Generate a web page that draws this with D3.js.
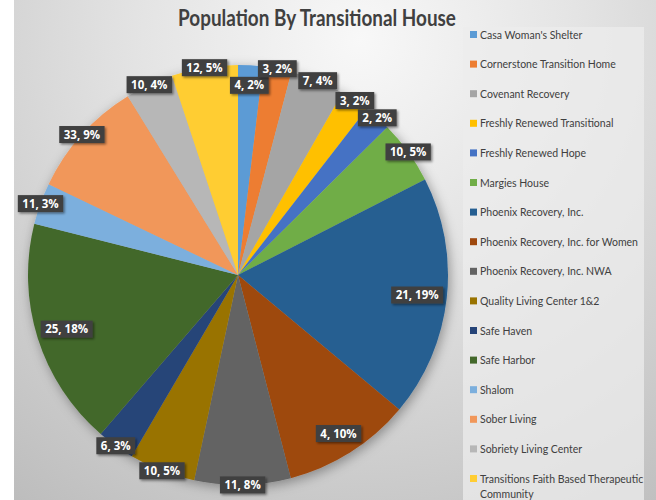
<!DOCTYPE html>
<html><head><meta charset="utf-8">
<script src="https://cdn.jsdelivr.net/npm/d3@7"></script>
<style>
html,body{margin:0;padding:0;background:#fff;}
svg{display:block;}
</style></head>
<body>
<svg id="chart" width="656" height="500"></svg>
<script>
const categories = ["Casa Woman's Shelter","Cornerstone Transition Home","Covenant Recovery","Freshly Renewed Transitional","Freshly Renewed Hope","Margies House","Phoenix Recovery, Inc.","Phoenix Recovery, Inc. for Women","Phoenix Recovery, Inc. NWA","Quality Living Center 1&2","Safe Haven","Safe Harbor","Shalom","Sober Living","Sobriety Living Center","Transitions Faith Based Therapeutic Community"];
const counts = [4,3,7,3,2,10,21,4,11,10,6,25,11,33,10,12];
const percentLabels = [2,2,4,2,2,5,19,10,8,5,3,18,3,9,4,5];
const shares = [1.9,2.2,4.2,2.2,2.1,4.9,18.6,9.9,7.4,5.1,2.9,17.6,3.2,9.1,3.7,5.1];
const colors = ["#5B9BD5","#ED7D31","#A5A5A5","#FFC000","#4472C4","#70AD47","#255E91","#9E480E","#636363","#997300","#264478","#43682B","#7CAFDD","#F1975A","#B7B7B7","#FFCD33"];
const title = "Population By Transitional House";

const svg = d3.select("#chart");
const W = 656, H = 500;
const defs = svg.append("defs");
const rg = defs.append("radialGradient").attr("id","bg").attr("gradientUnits","userSpaceOnUse")
  .attr("cx",360).attr("cy",40).attr("r",620);
rg.append("stop").attr("offset",0).attr("stop-color","#f8f8f8");
rg.append("stop").attr("offset",0.35).attr("stop-color","#e4e4e4");
rg.append("stop").attr("offset",1).attr("stop-color","#b8b8b8");
const sh = defs.append("filter").attr("id","pieShadow").attr("x","-20%").attr("y","-20%").attr("width","140%").attr("height","140%");
sh.append("feDropShadow").attr("dx",2).attr("dy",3).attr("stdDeviation",6).attr("flood-color","#000").attr("flood-opacity",0.35);
const lsh = defs.append("filter").attr("id","lblShadow").attr("x","-20%").attr("y","-30%").attr("width","150%").attr("height","170%");
lsh.append("feDropShadow").attr("dx",1.5).attr("dy",1.5).attr("stdDeviation",1.2).attr("flood-color","#000").attr("flood-opacity",0.45);

svg.append("rect").attr("x",14).attr("y",0).attr("width",W-14).attr("height",H).attr("fill","url(#bg)");

// legend panel
svg.append("rect").attr("x",463).attr("y",27).attr("width",181).attr("height",H-27).attr("fill","#ececec").attr("opacity",0.75);

// title (scaled horizontally to the reference's narrow width)
const tt = svg.append("text").attr("text-anchor","middle")
  .attr("font-family","Lato, sans-serif").attr("font-weight","bold").attr("font-size",23)
  .attr("fill","#404040").text(title);
const tw = tt.node().getComputedTextLength();
tt.attr("transform",`translate(317,26) scale(${Math.min(1,278/tw)},1)`);

const cx = 238, cy = 275, R = 210;
const pie = d3.pie().sort(null).value(d => d.share);
const data = categories.map((c,i)=>({name:c,count:counts[i],pct:percentLabels[i],share:shares[i],color:colors[i]}));
const arcs = pie(data);
const arc = d3.arc().innerRadius(0).outerRadius(R);
const g = svg.append("g").attr("transform",`translate(${cx},${cy})`);
g.append("g").attr("filter","url(#pieShadow)").selectAll("path").data(arcs).join("path")
  .attr("d",arc).attr("fill",d=>d.data.color);

// labels: compute placement first
const lg = g.append("g");
const labels = arcs.map(a=>{
  const t = `${a.data.count}, ${a.data.pct}%`;
  const grp = lg.append("g");
  const txt = grp.append("text").attr("text-anchor","middle").attr("dy","0.35em")
    .attr("font-family","'Open Sans', sans-serif").attr("font-weight","bold").attr("font-size",11.5)
    .attr("fill","#fff").text(t);
  const bw = txt.node().getComputedTextLength() + 9, bh = 17;
  const mid = (a.startAngle + a.endAngle)/2;
  const ux = Math.sin(mid), uy = -Math.cos(mid);
  const frac = (a.endAngle - a.startAngle)/(2*Math.PI);
  let r;
  if (frac >= 0.095) {
    r = R - (bw/2*Math.abs(ux) + bh/2*Math.abs(uy)) - 3;
  } else {
    r = R;
  }
  return {grp,bw,bh,ux,uy,r};
});
const overlaps = (p,q)=>{
  const ox = Math.min(p.ux*p.r+p.bw/2, q.ux*q.r+q.bw/2) - Math.max(p.ux*p.r-p.bw/2, q.ux*q.r-q.bw/2);
  const oy = Math.min(p.uy*p.r+p.bh/2, q.uy*q.r+q.bh/2) - Math.max(p.uy*p.r-p.bh/2, q.uy*q.r-q.bh/2);
  return ox > 0.5 && oy > 0.5;
};
for (let i=0;i<labels.length;i++){
  const n = labels[(i+1)%labels.length];
  while (overlaps(labels[i], n) && labels[i].r > 60) labels[i].r -= 1;
}
labels.forEach(l=>{
  l.grp.attr("transform",`translate(${l.ux*l.r},${l.uy*l.r})`);
  l.grp.insert("rect","text").attr("x",-l.bw/2).attr("y",-l.bh/2).attr("width",l.bw).attr("height",l.bh)
    .attr("fill","#404040").attr("filter","url(#lblShadow)");
});

// legend
const leg = svg.append("g");
const ly0 = 35, lstep = 29.6, maxW = 168;
data.forEach((d,i)=>{
  const y = ly0 + i*lstep;
  leg.append("rect").attr("x",470).attr("y",y-4).attr("width",7).attr("height",7).attr("fill",d.color);
  const t = leg.append("text").attr("x",480).attr("y",y).attr("dy","0.35em")
    .attr("font-family","Lato, sans-serif").attr("font-size",10.5).attr("fill","#404040");
  const words = d.name.split(" ");
  let line = [], ts = t.append("tspan").attr("x",480);
  words.forEach(w=>{
    line.push(w); ts.text(line.join(" "));
    if (ts.node().getComputedTextLength() > maxW && line.length>1){
      line.pop(); ts.text(line.join(" "));
      line=[w];
      ts = t.append("tspan").attr("x",480).attr("dy","1.5em").text(w);
    }
  });
});
</script>
</body></html>
